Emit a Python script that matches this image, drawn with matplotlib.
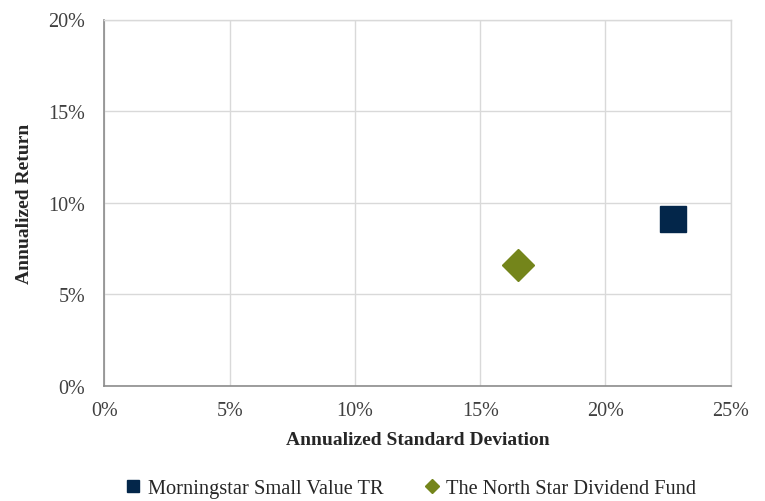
import matplotlib
matplotlib.use("Agg")
import matplotlib.pyplot as plt
from matplotlib.ticker import FuncFormatter

names = ["Morningstar Small Value TR", "The North Star Dividend Fund"]
std_dev = [22.7, 16.5]
returns = [9.1, 6.6]
markers = ["s", "D"]
colors = ["#03264A", "#74851B"]
sizes = [26, 23]

x_ticks = [0, 5, 10, 15, 20, 25]
y_ticks = [0, 5, 10, 15, 20]

plt.rcParams['font.family'] = ['Liberation Serif', 'DejaVu Serif']

fig = plt.figure(figsize=(7.65, 5.02), dpi=100)
ax = fig.add_axes([104.5/765, 1-386.7/502, (730.7-104.5)/765, (386.7-20.5)/502])

for n, x, y, m, c, s in zip(names, std_dev, returns, markers, colors, sizes):
    ax.plot([x], [y], linestyle='none', marker=m, markersize=s*0.72, color=c,
            markeredgecolor=c, label=n, zorder=3, clip_on=False)

ax.set_xlim(0, 25)
ax.set_ylim(0, 20)
ax.set_xticks(x_ticks)
ax.set_yticks(y_ticks)
fmt = FuncFormatter(lambda v, p: f"{v:.0f}%")
ax.xaxis.set_major_formatter(fmt)
ax.yaxis.set_major_formatter(fmt)
ax.grid(True, color='#D9D9D9', linewidth=1.0, zorder=0)
ax.set_axisbelow(True)
for s in ['top', 'right']:
    ax.spines[s].set_color('#D9D9D9')
    ax.spines[s].set_linewidth(1.0)
for s in ['left', 'bottom']:
    ax.spines[s].set_color('#8C8C8C')
    ax.spines[s].set_linewidth(1.2)
ax.tick_params(length=0, labelsize=14.5, colors='#404040')
ax.tick_params(axis='y', pad=14)
ax.tick_params(axis='x', pad=11)

ax.set_xlabel("Annualized Standard Deviation", fontsize=14, fontweight='bold',
              color='#262626', va='center')
ax.set_ylabel("Annualized Return", fontsize=14, fontweight='bold',
              color='#262626', va='center')
ax.xaxis.set_label_coords(0.5, (386.7-441)/366.2)
ax.yaxis.set_label_coords((25-104.5)/626.2, 0.5)

handles, labels = ax.get_legend_handles_labels()
leg = fig.legend(handles, labels, loc='center', bbox_to_anchor=(0.537, 1-489/502),
                 ncol=2, frameon=False, fontsize=14.7, markerscale=0.45,
                 handlelength=0.8, handletextpad=0.3, columnspacing=2.0)
for t in leg.get_texts():
    t.set_color('#262626')

fig.savefig("out.png", dpi=100)
